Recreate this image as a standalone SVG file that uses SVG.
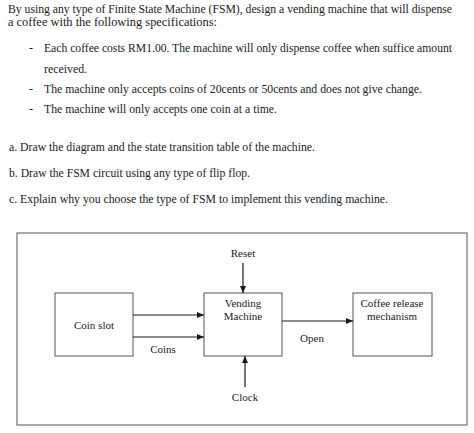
<svg xmlns="http://www.w3.org/2000/svg" width="474" height="433" viewBox="0 0 474 433">
<style>
text{font-family:"Liberation Serif","Times New Roman",serif;fill:#1a1a1a}
.q{font-size:12px}
.d{font-size:11px;text-anchor:middle}
.box{fill:#fff;stroke:#555;stroke-width:1}
.ln{stroke:#1a1a1a;stroke-width:1.2;fill:none;marker-end:url(#ah)}
</style>
<defs>
<marker id="ah" markerWidth="8" markerHeight="6" refX="7" refY="3" orient="auto" markerUnits="userSpaceOnUse">
<path d="M0,0 L7,3 L0,6 Z" fill="#1a1a1a"/>
</marker>
</defs>
<rect width="474" height="433" fill="#fff"/>
<g id="question">
<text class="q" x="8" y="13" textLength="444" lengthAdjust="spacingAndGlyphs">By using any type of Finite State Machine (FSM), design a vending machine that will dispense</text>
<text class="q" x="8" y="26" textLength="209" lengthAdjust="spacingAndGlyphs">a coffee with the following specifications:</text>
<text class="q" x="29" y="52">-</text>
<text class="q" x="44" y="52" textLength="408" lengthAdjust="spacingAndGlyphs">Each coffee costs RM1.00. The machine will only dispense coffee when suffice amount</text>
<text class="q" x="44" y="73" textLength="43" lengthAdjust="spacingAndGlyphs">received.</text>
<text class="q" x="29" y="93">-</text>
<text class="q" x="44" y="93" textLength="378" lengthAdjust="spacingAndGlyphs">The machine only accepts coins of 20cents or 50cents and does not give change.</text>
<text class="q" x="29" y="113">-</text>
<text class="q" x="44" y="113" textLength="233" lengthAdjust="spacingAndGlyphs">The machine will only accepts one coin at a time.</text>
<text class="q" x="9" y="151" textLength="306" lengthAdjust="spacingAndGlyphs">a. Draw the diagram and the state transition table of the machine.</text>
<text class="q" x="9" y="177" textLength="241" lengthAdjust="spacingAndGlyphs">b. Draw the FSM circuit using any type of flip flop.</text>
<text class="q" x="9" y="203" textLength="379" lengthAdjust="spacingAndGlyphs">c. Explain why you choose the type of FSM to implement this vending machine.</text>
</g>
<rect id="frame" x="17" y="233" width="450" height="192" fill="none" stroke="#555" stroke-width="1"/>
<g id="coin-slot">
<rect class="box" x="55" y="293" width="78" height="63"/>
<text class="d" x="94" y="329">Coin slot</text>
</g>
<g id="vending-machine">
<rect class="box" x="204" y="293" width="78" height="63"/>
<text class="d" x="243" y="307">Vending</text>
<text class="d" x="243" y="320">Machine</text>
</g>
<g id="coffee-release">
<rect class="box" x="353" y="293" width="79" height="63"/>
<text class="d" x="392" y="307">Coffee release</text>
<text class="d" x="392" y="320">mechanism</text>
</g>
<g id="reset">
<text class="d" x="243" y="257">Reset</text>
</g>
<g id="clock">
<text class="d" x="245" y="401">Clock</text>
</g>
<g id="connectors">
<line class="ln" x1="133" y1="315" x2="204" y2="315"/>
<line class="ln" x1="133" y1="337" x2="204" y2="337"/>
<line class="ln" x1="282" y1="321" x2="353" y2="321"/>
<line class="ln" x1="243" y1="263" x2="243" y2="293"/>
<line class="ln" x1="245" y1="387" x2="245" y2="356"/>
<text class="d" x="163" y="353">Coins</text>
<text class="d" x="312" y="342">Open</text>
</g>
</svg>
